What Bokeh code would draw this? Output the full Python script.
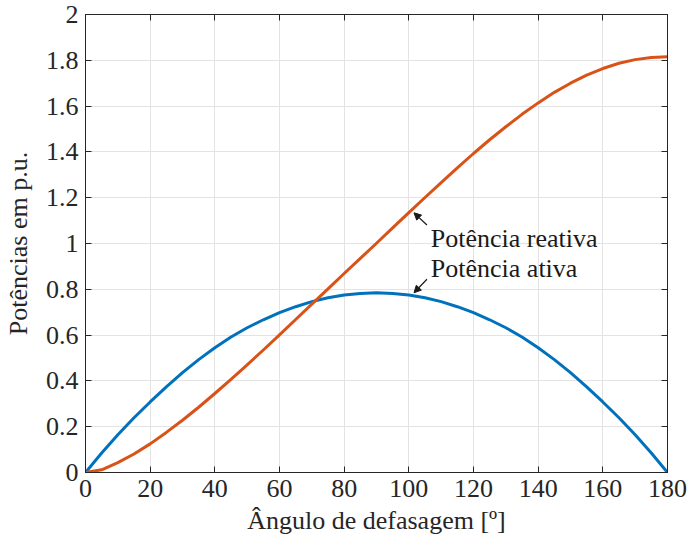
from bokeh.plotting import figure
from bokeh.models import (LinearAxis, FixedTicker, Label, Arrow, NormalHead,
                          Range1d, NumeralTickFormatter, ColumnDataSource,
                          CustomJSTickFormatter)
from bokeh.embed import file_html
from bokeh.resources import INLINE

# ---- data ----
angle_deg = [0, 5, 10, 15, 20, 25, 30, 35, 40, 45, 50, 55, 60, 65, 70, 75, 80, 85, 90,
             95, 100, 105, 110, 115, 120, 125, 130, 135, 140, 145, 150, 155, 160, 165,
             170, 175, 180]
p_ativa = [0.000, 0.085, 0.165, 0.239, 0.308, 0.374, 0.436, 0.493, 0.545, 0.592,
           0.632, 0.667, 0.698, 0.724, 0.746, 0.763, 0.775, 0.782, 0.785,
           0.782, 0.775, 0.763, 0.746, 0.724, 0.698, 0.667, 0.632, 0.592, 0.545,
           0.493, 0.436, 0.374, 0.308, 0.239, 0.165, 0.085, 0.000]
q_reativa = [0.000, 0.012, 0.043, 0.081, 0.125, 0.175, 0.228, 0.285, 0.345, 0.407,
             0.470, 0.535, 0.601, 0.668, 0.735, 0.802, 0.869, 0.935, 1.001,
             1.068, 1.135, 1.201, 1.266, 1.330, 1.393, 1.453, 1.510, 1.564, 1.614,
             1.660, 1.700, 1.735, 1.764, 1.787, 1.803, 1.812, 1.815]
x_ticks = [0, 20, 40, 60, 80, 100, 120, 140, 160, 180]
y_ticks = [0, 0.2, 0.4, 0.6, 0.8, 1, 1.2, 1.4, 1.6, 1.8, 2]

label_reativa = "Potência reativa"
label_ativa = "Potência ativa"
x_label = "Ângulo de defasagem [º]"
y_label = "Potências em p.u."

# ---- styling ----
FONT = "Liberation Serif"
FS = "26px"
AX = "#262626"
GRID = "#e3e3e3"
BLUE = "#0072BD"
ORANGE = "#D95319"

src = ColumnDataSource(dict(x=angle_deg, p=p_ativa, q=q_reativa))

p = figure(width=687, height=539, output_backend="svg", toolbar_location=None,
           x_range=Range1d(0, 180), y_range=Range1d(0, 2),
           min_border_left=85, min_border_right=20, min_border_top=14,
           min_border_bottom=67)

p.outline_line_color = AX
p.outline_line_width = 1
p.background_fill_color = "white"
p.border_fill_color = "white"

for ax in (p.xaxis[0], p.yaxis[0]):
    ax.axis_line_color = AX
    ax.major_tick_line_color = AX
    ax.major_tick_in = 6
    ax.major_tick_out = 0
    ax.minor_tick_line_color = None
    ax.major_label_text_font = FONT
    ax.major_label_text_font_size = FS
    ax.major_label_text_color = AX
    ax.axis_label_text_font = FONT
    ax.axis_label_text_font_size = FS
    ax.axis_label_text_font_style = "normal"
    ax.axis_label_text_color = AX

p.xaxis.ticker = FixedTicker(ticks=x_ticks)
p.yaxis.ticker = FixedTicker(ticks=y_ticks)
p.yaxis.formatter = NumeralTickFormatter(format="0.[0]")
p.xaxis.axis_label = x_label
p.yaxis.axis_label = y_label
p.xaxis.major_label_standoff = 7
p.yaxis.major_label_standoff = 7
p.xaxis.axis_label_standoff = 6
p.yaxis.axis_label_standoff = 10

# box ticks on top and right (no labels)
blank = CustomJSTickFormatter(code="return ''")
top = LinearAxis(ticker=FixedTicker(ticks=x_ticks), formatter=blank,
                 major_label_text_font_size="1px",
                 major_tick_in=6, major_tick_out=0, minor_tick_line_color=None,
                 axis_line_color=AX, major_tick_line_color=AX, major_label_standoff=0)
right = LinearAxis(ticker=FixedTicker(ticks=y_ticks), formatter=blank,
                   major_label_text_font_size="1px",
                   major_tick_in=6, major_tick_out=0, minor_tick_line_color=None,
                   axis_line_color=AX, major_tick_line_color=AX, major_label_standoff=0)
p.add_layout(top, "above")
p.add_layout(right, "right")

p.xgrid.ticker = FixedTicker(ticks=x_ticks)
p.ygrid.ticker = FixedTicker(ticks=y_ticks)
p.grid.grid_line_color = GRID
p.grid.grid_line_width = 1

p.line("x", "p", source=src, color=BLUE, line_width=3, line_join="round")
p.line("x", "q", source=src, color=ORANGE, line_width=3, line_join="round")

# annotations (text + arrows)
TXT = "#1a1a1a"
p.add_layout(Label(x=106.8, y=1.02, text=label_reativa, text_baseline="middle",
                   text_font=FONT, text_font_size=FS, text_color=TXT))
p.add_layout(Label(x=106.8, y=0.889, text=label_ativa, text_baseline="middle",
                   text_font=FONT, text_font_size=FS, text_color=TXT))
p.add_layout(Arrow(end=NormalHead(size=7, fill_color=TXT, line_color=TXT),
                   x_start=105.6, y_start=1.081, x_end=101.6, y_end=1.134,
                   line_width=1.2, line_color=TXT))
p.add_layout(Arrow(end=NormalHead(size=7, fill_color=TXT, line_color=TXT),
                   x_start=105.6, y_start=0.844, x_end=101.6, y_end=0.785,
                   line_width=1.2, line_color=TXT))

open("out.html", "w").write(file_html(p, INLINE))
